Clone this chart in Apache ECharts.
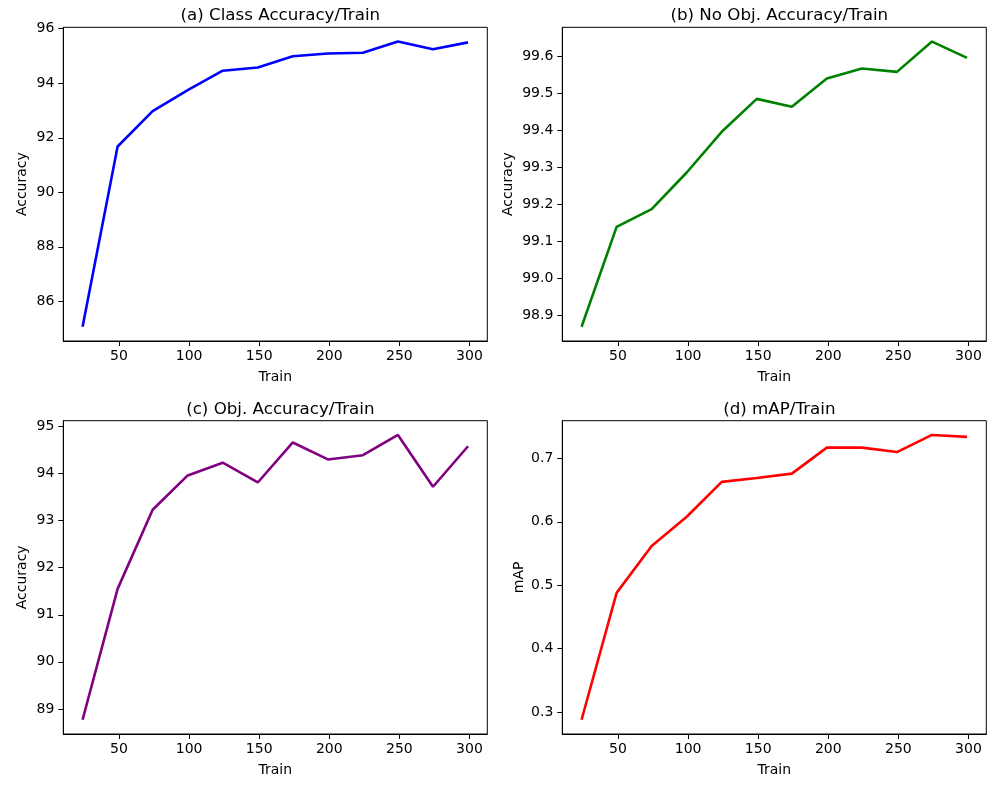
<!DOCTYPE html>
<html>
<head>
<meta charset="utf-8">
<script src="https://cdn.jsdelivr.net/npm/echarts@6/dist/echarts.min.js"></script>
<style>
html,body{margin:0;padding:0;background:#fff;}
#chart{width:1000px;height:786px;}
</style>
</head>
<body>
<div id="chart"></div>
<script>
// ---- data ----
const trainSteps = [24, 49, 74, 99, 124, 149, 174, 199, 224, 249, 274, 299];
const classAccuracy = [85.07, 91.68, 92.98, 93.75, 94.46, 94.58, 94.99, 95.09, 95.12, 95.53, 95.25, 95.50];
const noObjAccuracy = [98.87, 99.14, 99.188, 99.287, 99.397, 99.486, 99.465, 99.541, 99.568, 99.559, 99.641, 99.597];
const objAccuracy = [88.77, 91.55, 93.23, 93.96, 94.23, 93.81, 94.66, 94.30, 94.39, 94.82, 93.72, 94.58];
const mapValues = [0.288, 0.488, 0.562, 0.608, 0.663, 0.669, 0.676, 0.717, 0.717, 0.710, 0.737, 0.734];
const xTicks = [50, 100, 150, 200, 250, 300];
const yTicksA = [86, 88, 90, 92, 94, 96];
const yTicksB = [98.9, 99.0, 99.1, 99.2, 99.3, 99.4, 99.5, 99.6];
const yTicksC = [89, 90, 91, 92, 93, 94, 95];
const yTicksD = [0.3, 0.4, 0.5, 0.6, 0.7];
const titles = ['(a) Class Accuracy/Train', '(b) No Obj. Accuracy/Train', '(c) Obj. Accuracy/Train', '(d) mAP/Train'];
const yNames = ['Accuracy', 'Accuracy', 'Accuracy', 'mAP'];
const colors = ['#0000ff', '#008000', '#800080', '#ff0000'];

// ---- layout ----
const font = 'DejaVu Sans';
const panels = [
  {left: 63.3, top: 27.3, width: 424, height: 313.7, data: classAccuracy, ticks: yTicksA, dec: 0, nameGap: 34},
  {left: 562.3, top: 27.3, width: 424, height: 313.7, data: noObjAccuracy, ticks: yTicksB, dec: 1, nameGap: 47},
  {left: 63.3, top: 420.7, width: 424, height: 313.3, data: objAccuracy, ticks: yTicksC, dec: 0, nameGap: 34},
  {left: 562.3, top: 420.7, width: 424, height: 313.3, data: mapValues, ticks: yTicksD, dec: 1, nameGap: 36}
];

function padRange(arr, frac) {
  const mn = Math.min(...arr), mx = Math.max(...arr);
  const m = (mx - mn) * frac;
  return [mn - m, mx + m];
}

const xr = padRange(trainSteps, 0.05);
const grids = [], xAxes = [], yAxes = [], series = [], titleOpts = [];
panels.forEach((p, i) => {
  grids.push({left: p.left, top: p.top, width: p.width, height: p.height,
    show: true, borderColor: '#000', borderWidth: 1, backgroundColor: 'transparent'});
  titleOpts.push({text: titles[i], left: p.left + p.width / 2, top: p.top - 25, textAlign: 'center',
    textStyle: {fontFamily: font, fontSize: 16.7, fontWeight: 'normal', color: '#000'}});
  xAxes.push({type: 'value', gridIndex: i, min: xr[0], max: xr[1],
    name: 'Train', nameLocation: 'middle', nameGap: 29,
    nameTextStyle: {fontFamily: font, fontSize: 14, color: '#000'},
    axisLine: {show: true, lineStyle: {color: '#000', width: 1}},
    axisTick: {show: true, length: 5, lineStyle: {color: '#000'}, customValues: xTicks},
    axisLabel: {show: true, fontFamily: font, fontSize: 14, color: '#000', margin: 8, customValues: xTicks},
    splitLine: {show: false}});
  const yr = padRange(p.data, 0.05);
  yAxes.push({type: 'value', gridIndex: i, min: yr[0], max: yr[1],
    name: yNames[i], nameLocation: 'middle', nameGap: p.nameGap, nameRotate: 90,
    nameTextStyle: {fontFamily: font, fontSize: 14, color: '#000'},
    axisLine: {show: true, lineStyle: {color: '#000', width: 1}},
    axisTick: {show: true, length: 5, lineStyle: {color: '#000'}, customValues: p.ticks},
    axisLabel: {show: true, fontFamily: font, fontSize: 14, color: '#000', margin: 9,
      customValues: p.ticks, formatter: v => v.toFixed(p.dec)},
    splitLine: {show: false}});
  series.push({type: 'line', xAxisIndex: i, yAxisIndex: i,
    data: trainSteps.map((x, k) => [x, p.data[k]]),
    showSymbol: false, symbol: 'none', lineStyle: {color: colors[i], width: 2.6}, itemStyle: {color: colors[i]},
    animation: false});
});

const chart = echarts.init(document.getElementById('chart'), null, {renderer: 'canvas'});
chart.setOption({
  backgroundColor: '#fff',
  animation: false,
  title: titleOpts,
  grid: grids,
  xAxis: xAxes,
  yAxis: yAxes,
  series: series
});
</script>
</body>
</html>
